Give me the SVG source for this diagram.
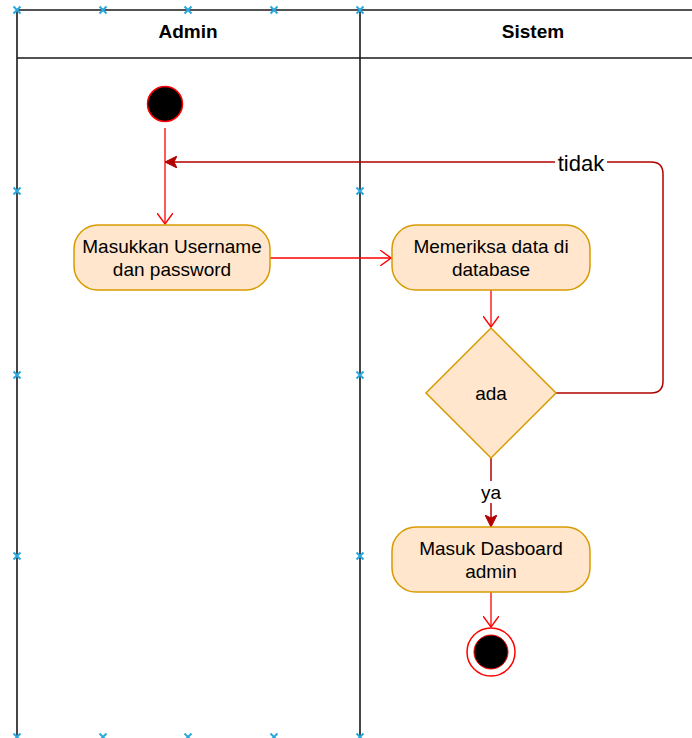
<svg xmlns="http://www.w3.org/2000/svg" width="692" height="738" viewBox="0 0 692 738">
  <style>
    .lane { fill: none; stroke: #1a1a1a; stroke-width: 1.6; }
    .hdr { font-family: "Liberation Sans", Arial, sans-serif; font-size: 19px; font-weight: bold; fill: #000; text-anchor: middle; }
    .act { fill: #ffe6cc; stroke: #d79b00; stroke-width: 1.5; }
    .lbl { font-family: "Liberation Sans", Arial, sans-serif; font-size: 19px; fill: #000; text-anchor: middle; }
    .flow { fill: none; stroke: #ff0000; stroke-width: 1.3; }
    .flow-dark { fill: none; stroke: #b20000; stroke-width: 1.5; }
    .handle { stroke: #29a8e0; stroke-width: 2; }
  </style>
  <defs>
    <marker id="openArrow" viewBox="0 0 12 16" refX="11" refY="8" markerWidth="12" markerHeight="16" markerUnits="userSpaceOnUse" orient="auto">
      <path d="M0,0 L11,8 L0,16" fill="none" stroke="#ff0000" stroke-width="1.4"/>
    </marker>
    <marker id="blockArrow" viewBox="0 0 12 12" refX="11" refY="6" markerWidth="12" markerHeight="12" markerUnits="userSpaceOnUse" orient="auto">
      <path d="M0,0 L12,6 L0,12 L3,6 Z" fill="#b20000" stroke="#b20000" stroke-width="1"/>
    </marker>
    <g id="hx">
      <path d="M-3.5,-3.5 L3.5,3.5 M-3.5,3.5 L3.5,-3.5" class="handle"/>
    </g>
  </defs>

  <rect width="692" height="738" fill="#fff"/>

  <!-- swimlane pool -->
  <g id="pool">
    <path class="lane" d="M17,738 L17,10 L706,10 M17,58 L706,58 M360,10 L360,738"/>
    <text class="hdr" x="188" y="38">Admin</text>
    <text class="hdr" x="533" y="38">Sistem</text>
  </g>

  <!-- connectors -->
  <g id="connectors">
    <path class="flow" d="M165,128 L165,224" marker-end="url(#openArrow)"/>
    <path class="flow" d="M270,258 L391,258" marker-end="url(#openArrow)"/>
    <path class="flow" d="M491,290 L491,327" marker-end="url(#openArrow)"/>
    <path class="flow-dark" d="M556,393 L651,393 Q663,393 663,381 L663,174 Q663,162 651,162 L166,162" marker-end="url(#blockArrow)"/>
    <rect x="555" y="150" width="52" height="24" fill="#fff"/>
    <text x="581" y="171" font-family="'Liberation Sans', Arial, sans-serif" font-size="22" text-anchor="middle" fill="#000">tidak</text>
    <path class="flow-dark" d="M491,458 L491,526" marker-end="url(#blockArrow)"/>
    <rect x="479" y="481" width="24" height="22" fill="#fff"/>
    <text class="lbl" x="491" y="499">ya</text>
    <path class="flow" d="M491,592 L491,627" marker-end="url(#openArrow)"/>
  </g>

  <g id="start">
    <circle cx="165" cy="104" r="17.5" fill="#000" stroke="#ff0000" stroke-width="1.5"/>
  </g>

  <g id="input-login">
    <rect class="act" x="74" y="225" width="196" height="65" rx="24"/>
    <text class="lbl" x="172" y="253">Masukkan Username</text>
    <text class="lbl" x="172" y="276">dan password</text>
  </g>

  <g id="check-db">
    <rect class="act" x="392" y="225" width="198" height="65" rx="24"/>
    <text class="lbl" x="491" y="253">Memeriksa data di</text>
    <text class="lbl" x="491" y="276">database</text>
  </g>

  <g id="decision">
    <path class="act" d="M491,328 L556,393 L491,458 L426,393 Z"/>
    <text class="lbl" x="491" y="400">ada</text>
  </g>

  <g id="dashboard">
    <rect class="act" x="392" y="527" width="198" height="65" rx="24"/>
    <text class="lbl" x="491" y="555">Masuk Dasboard</text>
    <text class="lbl" x="491" y="578">admin</text>
  </g>

  <g id="end">
    <circle cx="491" cy="652" r="24" fill="#fff" stroke="#ff0000" stroke-width="1.5"/>
    <circle cx="491" cy="652" r="17" fill="#000" stroke="#ff0000" stroke-width="1"/>
  </g>

  <!-- lane handles -->
  <g id="handles">
    <use href="#hx" x="17" y="10"/>
    <use href="#hx" x="103" y="10"/>
    <use href="#hx" x="188" y="10"/>
    <use href="#hx" x="274" y="10"/>
    <use href="#hx" x="360" y="10"/>
    <use href="#hx" x="17" y="191"/>
    <use href="#hx" x="17" y="375"/>
    <use href="#hx" x="17" y="556"/>
    <use href="#hx" x="360" y="191"/>
    <use href="#hx" x="360" y="375"/>
    <use href="#hx" x="360" y="556"/>
    <use href="#hx" x="17" y="737"/>
    <use href="#hx" x="103" y="737"/>
    <use href="#hx" x="188" y="737"/>
    <use href="#hx" x="274" y="737"/>
    <use href="#hx" x="360" y="737"/>
  </g>
</svg>
